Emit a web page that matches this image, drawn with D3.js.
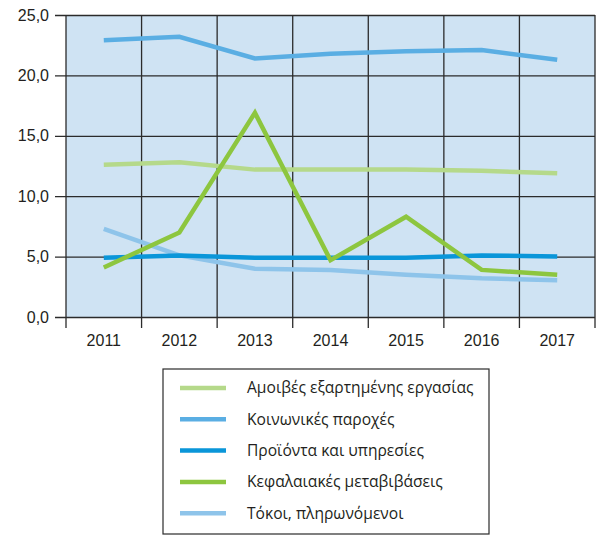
<!DOCTYPE html>
<html>
<head>
<meta charset="utf-8">
<script src="https://cdn.jsdelivr.net/npm/d3@7"></script>
<style>
  body { margin: 0; background: #fff; }
  svg { display: block; font-family: "Open Sans", sans-serif; }
</style>
</head>
<body>
<div id="chart-area"></div>
<script>
var years = ["2011", "2012", "2013", "2014", "2015", "2016", "2017"];
var yTicks = [0, 5, 10, 15, 20, 25];

var seriesNames = [
    "Αμοιβές εξαρτημένης εργασίας",
    "Κοινωνικές παροχές",
    "Προϊόντα και υπηρεσίες",
    "Κεφαλαιακές μεταβιβάσεις",
    "Τόκοι, πληρωνόμενοι"
];
var wages = [12.6, 12.8, 12.2, 12.2, 12.2, 12.1, 11.9];
var socialBenefits = [22.9, 23.2, 21.4, 21.8, 22.0, 22.1, 21.3];
var productsServices = [4.9, 5.1, 4.9, 4.9, 4.9, 5.1, 5.0];
var capitalTransfers = [4.1, 7.0, 16.9, 4.7, 8.3, 3.9, 3.5];
var interestPaid = [7.3, 5.1, 4.0, 3.9, 3.5, 3.2, 3.05];

var colors = ["#b5d98a", "#5aaee3", "#0a96d9", "#8dc63f", "#8ec4ea"];
var seriesValues = [wages, socialBenefits, productsServices, capitalTransfers, interestPaid];
// draw order: back to front
var drawOrder = [0, 1, 4, 2, 3];

var margin = { top: 15, right: 4, bottom: 218, left: 66 };
var width = 599 - margin.left - margin.right;
var height = 535 - margin.top - margin.bottom;

var svg = d3.select("#chart-area")
    .append("svg")
    .attr("width", 599)
    .attr("height", 535);

var g = svg.append("g")
    .attr("transform", `translate(${margin.left}, ${margin.top})`);

var x = d3.scaleBand()
    .domain(years)
    .range([0, width]);

var y = d3.scaleLinear()
    .domain([0, 25])
    .range([height, 0]);

g.append("rect")
    .attr("width", width)
    .attr("height", height)
    .attr("fill", "#cfe3f3");

// horizontal grid + left ticks
g.append("g")
    .attr("class", "y-axis")
    .call(d3.axisLeft(y)
        .tickValues(yTicks)
        .tickSize(-width - 11)
        .tickFormat(d => d3.format(".1f")(d).replace(".", ",")))
    .call(a => a.select(".domain").remove())
    .call(a => a.selectAll(".tick line")
        .attr("transform", "translate(" + (-11) + ",0)")
        .attr("x1", 0).attr("x2", width + 11)
        .attr("stroke", "#2b2b2b").attr("stroke-width", 1.3))
    .call(a => a.selectAll(".tick text")
        .attr("x", -17)
        .attr("font-size", "16px")
        .attr("fill", "#231f20"));

// vertical grid lines at band edges
var edges = years.map(d => x(d)).concat([width]);
g.append("g")
    .selectAll("line")
    .data(edges)
    .enter()
    .append("line")
    .attr("x1", d => d)
    .attr("x2", d => d)
    .attr("y1", 0)
    .attr("y2", height + 11)
    .attr("stroke", "#2b2b2b")
    .attr("stroke-width", 1.3);

// x labels
g.append("g")
    .attr("transform", `translate(0, ${height})`)
    .call(d3.axisBottom(x).tickSize(0).tickPadding(18))
    .call(a => a.select(".domain").remove())
    .call(a => a.selectAll(".tick text")
        .attr("font-size", "16px")
        .attr("fill", "#231f20"));

var line = d3.line()
    .x((d, i) => x(years[i]) + x.bandwidth() / 2)
    .y(d => y(d));

drawOrder.forEach(k => {
    g.append("path")
        .datum(seriesValues[k])
        .attr("d", line)
        .attr("fill", "none")
        .attr("stroke", colors[k])
        .attr("stroke-width", 4.5)
        .attr("stroke-linejoin", "miter");
});

// legend
var legend = svg.append("g")
    .attr("transform", "translate(163, 369)");

legend.append("rect")
    .attr("width", 326)
    .attr("height", 165)
    .attr("fill", "#fff")
    .attr("stroke", "#2b2b2b")
    .attr("stroke-width", 1.2);

var items = legend.selectAll(".item")
    .data(seriesNames)
    .enter()
    .append("g")
    .attr("transform", (d, i) => `translate(0, ${19 + i * 31.3})`);

items.append("line")
    .attr("x1", 17)
    .attr("x2", 63)
    .attr("stroke", (d, i) => colors[i])
    .attr("stroke-width", 4.5);

items.append("text")
    .attr("x", 84)
    .attr("dy", "0.35em")
    .attr("font-size", "15.6px")
    .attr("fill", "#231f20")
    .text(d => d);
</script>
</body>
</html>
